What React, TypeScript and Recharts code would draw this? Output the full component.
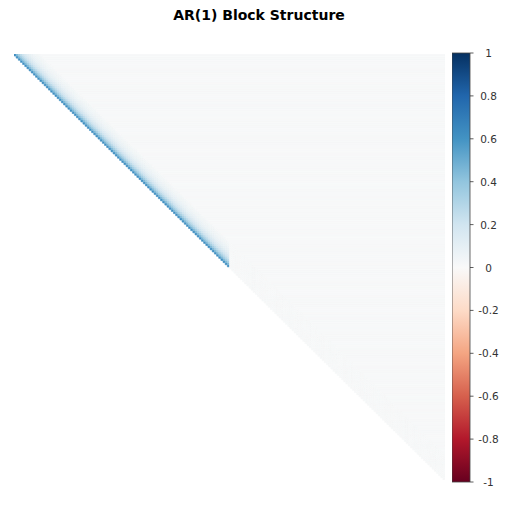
import { BarChart, Bar, XAxis, YAxis, Cell } from 'recharts';

// matrix layout: 200 variables, first 100 form the AR(1) block
const N = 200;
const BLOCK = 100;

// correlation by lag inside the AR(1) block (lag 0 = diagonal)
const lagCorr = [0.62, 0.45, 0.34, 0.26, 0.2, 0.15, 0.11, 0.08, 0.06, 0.045, 0.035, 0.025];
// everything outside the band / outside the block
const offBlockCorr = 0.01;

const cbarTicks = [1, 0.8, 0.6, 0.4, 0.2, 0, -0.2, -0.4, -0.6, -0.8, -1];

// RdBu_r colormap stops, from -1 to 1
const RDBU = ['#67001f', '#b2182b', '#d6604d', '#f4a582', '#fddbc7', '#f9f9f9', '#d1e5f0', '#92c5de', '#4393c3', '#2166ac', '#053061'];

function hexToRgb(h: string) {
  return [parseInt(h.slice(1, 3), 16), parseInt(h.slice(3, 5), 16), parseInt(h.slice(5, 7), 16)];
}

function cmap(v: number) {
  const t = Math.max(0, Math.min(1, (v + 1) / 2)) * (RDBU.length - 1);
  const i = Math.min(RDBU.length - 2, Math.floor(t));
  const f = t - i;
  const a = hexToRgb(RDBU[i]);
  const b = hexToRgb(RDBU[i + 1]);
  const c = a.map((x, k) => Math.round(x + (b[k] - x) * f));
  return `rgb(${c[0]},${c[1]},${c[2]})`;
}

// one stacked horizontal bar per matrix row: blank lower part, band cells, then the rest of the row
const rows = Array.from({ length: N }, (_, i) => {
  const r: any = { row: i, off: i };
  lagCorr.forEach((_, k) => {
    r['l' + k] = i + k < N ? 1 : 0;
  });
  r.rest = Math.max(0, N - i - lagCorr.length);
  return r;
});

const bgColor = cmap(offBlockCorr);

const cbarData = [{ name: 'cbar', span: [-1, 1] }];

function CbarTick(props: any) {
  const { x, y, payload } = props;
  const v = payload.value;
  const label = v === 0 ? '0' : String(v);
  return (
    <text x={x + 8} y={y} dy={4} textAnchor="middle" fontSize={10.5} fill="#333" fontFamily="DejaVu Sans">
      {label}
    </text>
  );
}

export default function App() {
  return (
    <div style={{ position: 'relative', width: 507, height: 511, margin: -8, background: '#fff', overflow: 'hidden', fontFamily: 'DejaVu Sans' }}>
      <div style={{ position: 'absolute', left: 0, top: 0, width: 507, height: 7, background: '#2d2d2d' }} />
      <div style={{ position: 'absolute', left: 0, top: 0, width: 5, height: 511, background: '#2d2d2d' }} />

      <div style={{ position: 'absolute', left: 0, top: 7, width: 518, textAlign: 'center', fontWeight: 'bold', fontSize: 14, color: '#000' }}>
        AR(1) Block Structure
      </div>

      <div style={{ position: 'absolute', left: 14, top: 54 }}>
        <BarChart
          width={431}
          height={426}
          data={rows}
          layout="vertical"
          margin={{ top: 0, right: 0, bottom: 0, left: 0 }}
          barCategoryGap={0}
          barGap={0}
        >
          <XAxis type="number" domain={[0, N]} hide allowDataOverflow />
          <YAxis type="category" dataKey="row" hide />
          <Bar dataKey="off" stackId="r" fill="transparent" isAnimationActive={false} />
          {lagCorr.map((c, k) => (
            <Bar key={k} dataKey={'l' + k} stackId="r" isAnimationActive={false}>
              {rows.map((_, i) => {
                const fill = i < BLOCK && i + k < BLOCK ? cmap(c) : bgColor;
                return <Cell key={i} fill={fill} stroke={fill} strokeWidth={0.6} />;
              })}
            </Bar>
          ))}
          <Bar dataKey="rest" stackId="r" fill={bgColor} stroke={bgColor} strokeWidth={0.6} isAnimationActive={false} />
        </BarChart>
      </div>

      <div style={{ position: 'absolute', left: 452, top: 45 }}>
        <BarChart
          width={55}
          height={445}
          data={cbarData}
          margin={{ top: 8, right: 0, bottom: 8, left: 0 }}
          barCategoryGap={0}
        >
          <defs>
            <linearGradient id="cbarGrad" x1="0" y1="0" x2="0" y2="1">
              {RDBU.slice().reverse().map((c, i) => (
                <stop key={i} offset={`${(i / (RDBU.length - 1)) * 100}%`} stopColor={c} />
              ))}
            </linearGradient>
          </defs>
          <XAxis dataKey="name" hide />
          <YAxis
            orientation="right"
            type="number"
            domain={[-1, 1]}
            ticks={cbarTicks}
            width={37}
            axisLine={false}
            tickLine={{ stroke: '#333', strokeWidth: 0.8 }}
            tickSize={3.5}
            tickMargin={7}
            tick={<CbarTick />}
            interval={0}
          />
          <Bar dataKey="span" fill="url(#cbarGrad)" stroke="#444" strokeWidth={0.8} isAnimationActive={false} />
        </BarChart>
      </div>
    </div>
  );
}
